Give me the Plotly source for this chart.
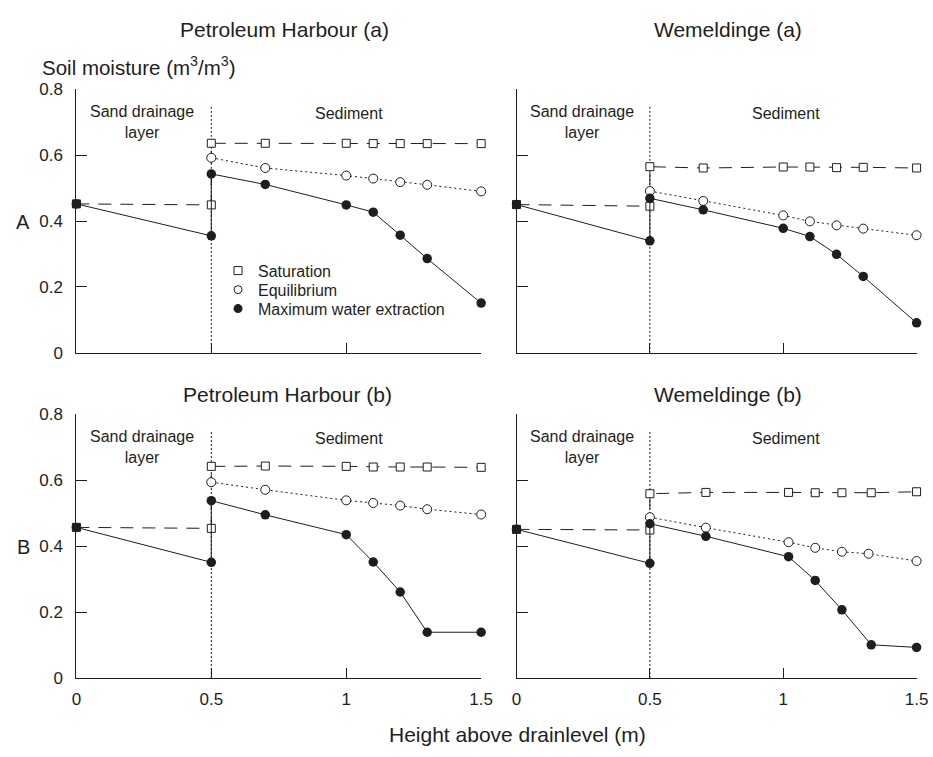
import plotly.graph_objects as go

# ---------------- data ----------------
x_tick_vals = [0, 0.5, 1, 1.5]
x_tick_text = ["0", "0.5", "1", "1.5"]
y_tick_vals = [0, 0.2, 0.4, 0.6, 0.8]
y_tick_text = ["0", "0.2", "0.4", "0.6", "0.8"]

# common sampling heights (m); 0.5 appears twice (sand / sediment side of the interface)
x_std = [0, 0.5, 0.5, 0.7, 1.0, 1.1, 1.2, 1.3, 1.5]
x_eq_std = [0.5, 0.7, 1.0, 1.1, 1.2, 1.3, 1.5]
x_wb = [0, 0.5, 0.5, 0.71, 1.02, 1.12, 1.22, 1.33, 1.5]
x_eq_wb = [0.5, 0.71, 1.02, 1.12, 1.22, 1.32, 1.5]

# Petroleum Harbour (a)
pha_sat = [0.452, 0.449, 0.636, 0.636, 0.636, 0.635, 0.635, 0.635, 0.635]
pha_eq = [0.592, 0.561, 0.538, 0.529, 0.518, 0.510, 0.490]
pha_max = [0.452, 0.355, 0.543, 0.511, 0.449, 0.427, 0.357, 0.286, 0.151]

# Wemeldinge (a)
wa_sat = [0.450, 0.445, 0.565, 0.561, 0.564, 0.564, 0.562, 0.563, 0.561]
wa_eq = [0.491, 0.461, 0.417, 0.399, 0.387, 0.377, 0.357]
wa_max = [0.450, 0.340, 0.469, 0.434, 0.378, 0.353, 0.299, 0.232, 0.091]

# Petroleum Harbour (b)
phb_sat = [0.457, 0.454, 0.642, 0.643, 0.642, 0.640, 0.640, 0.640, 0.639]
phb_eq = [0.594, 0.571, 0.539, 0.531, 0.523, 0.512, 0.496]
phb_max = [0.457, 0.351, 0.538, 0.495, 0.435, 0.352, 0.261, 0.139, 0.139]

# Wemeldinge (b)
wb_sat = [0.451, 0.449, 0.559, 0.563, 0.563, 0.562, 0.562, 0.562, 0.565]
wb_eq = [0.488, 0.456, 0.412, 0.395, 0.383, 0.377, 0.355]
wb_max = [0.451, 0.348, 0.468, 0.430, 0.368, 0.296, 0.207, 0.101, 0.093]

divider_x = [0.5, 0.5]
divider_y = [0, 0.75]

series_names = ["Saturation", "Equilibrium", "Maximum water extraction"]

panels = [
    dict(ax="", x=x_std, xe=x_eq_std, sat=pha_sat, eq=pha_eq, mx=pha_max, title="Petroleum Harbour (a)"),
    dict(ax="2", x=x_std, xe=x_eq_std, sat=wa_sat, eq=wa_eq, mx=wa_max, title="Wemeldinge (a)"),
    dict(ax="3", x=x_std, xe=x_eq_std, sat=phb_sat, eq=phb_eq, mx=phb_max, title="Petroleum Harbour (b)"),
    dict(ax="4", x=x_wb, xe=x_eq_wb, sat=wb_sat, eq=wb_eq, mx=wb_max, title="Wemeldinge (b)"),
]

# ---------------- style ----------------
W, H = 933, 757
ink = "#1e1e1e"
FONT = "Liberation Sans, Arial, Helvetica, sans-serif"

def px_x(p):
    return p / W

def px_y(p):
    return 1 - p / H

dom_x = {"": [72.7, 485.0], "2": [521.0, 928.5], "3": [72.7, 485.0], "4": [521.0, 928.5]}
dom_y = {"": [352.7, 82.3], "2": [352.7, 82.3], "3": [686.3, 415.7], "4": [686.3, 415.7]}

fig = go.Figure()

for p in panels:
    a = p["ax"]
    xa, ya = "x" + a, "y" + a
    # divider between sand drainage layer and sediment
    fig.add_trace(go.Scatter(x=divider_x, y=divider_y, mode="lines", xaxis=xa, yaxis=ya,
                             line=dict(color=ink, width=1, dash="2px,2px"),
                             showlegend=False, hoverinfo="skip"))
    # saturation
    fill = [ink] + ["white"] * (len(p["sat"]) - 1)
    fig.add_trace(go.Scatter(x=p["x"], y=p["sat"], mode="lines+markers", xaxis=xa, yaxis=ya,
                             name=series_names[0],
                             line=dict(color=ink, width=1, dash="13px,9px"),
                             marker=dict(symbol="square", size=8, color=fill,
                                         line=dict(color=ink, width=1)),
                             cliponaxis=False, showlegend=False))
    # equilibrium
    fig.add_trace(go.Scatter(x=p["xe"], y=p["eq"], mode="lines+markers", xaxis=xa, yaxis=ya,
                             name=series_names[1],
                             line=dict(color=ink, width=1, dash="2px,3px"),
                             marker=dict(symbol="circle", size=9, color="white",
                                         line=dict(color=ink, width=1)),
                             cliponaxis=False, showlegend=False))
    # maximum water extraction
    fig.add_trace(go.Scatter(x=p["x"], y=p["mx"], mode="lines+markers", xaxis=xa, yaxis=ya,
                             name=series_names[2],
                             line=dict(color=ink, width=1),
                             marker=dict(symbol="circle", size=9.5, color=ink,
                                         line=dict(color=ink, width=0)),
                             cliponaxis=False, showlegend=False))

# legend entries (symbols only), one legend per row for exact spacing
fig.add_trace(go.Scatter(x=[None], y=[None], mode="markers", name=series_names[0], legend="legend",
                         marker=dict(symbol="square", size=8, color="white", line=dict(color=ink, width=1))))
fig.add_trace(go.Scatter(x=[None], y=[None], mode="markers", name=series_names[1], legend="legend2",
                         marker=dict(symbol="circle", size=8, color="white", line=dict(color=ink, width=1))))
fig.add_trace(go.Scatter(x=[None], y=[None], mode="markers", name=series_names[2], legend="legend3",
                         marker=dict(symbol="circle", size=9, color=ink, line=dict(width=0))))

def legend_box(top_px):
    return dict(x=px_x(217), y=px_y(top_px), xanchor="left", yanchor="top",
                bgcolor="rgba(0,0,0,0)", font=dict(size=16, family=FONT, color=ink),
                itemwidth=30, tracegroupgap=0)

layout = dict(
    width=W, height=H, autosize=False,
    margin=dict(l=0, r=0, t=0, b=0),
    paper_bgcolor="white", plot_bgcolor="white",
    font=dict(family=FONT, color=ink, size=16),
    showlegend=True,
    legend=legend_box(251),
    legend2=legend_box(270.5),
    legend3=legend_box(290),
)

for a in ["", "2", "3", "4"]:
    bottom = a in ("3", "4")
    left = a in ("", "3")
    layout["xaxis" + a] = dict(
        domain=[px_x(dom_x[a][0]), px_x(dom_x[a][1])], range=[0, 1.5],
        anchor="y" + a, showline=True, linecolor=ink, linewidth=1,
        ticks="inside", ticklen=10, tickwidth=1, tickcolor=ink,
        tickvals=x_tick_vals, ticktext=x_tick_text, showticklabels=bottom,
        tickfont=dict(size=17, family=FONT, color=ink), ticklabelstandoff=6,
        showgrid=False, zeroline=False, fixedrange=True)
    layout["yaxis" + a] = dict(
        domain=[px_y(dom_y[a][0]), px_y(dom_y[a][1])], range=[0, 0.8],
        anchor="x" + a, showline=True, linecolor=ink, linewidth=1,
        ticks="inside", ticklen=11, tickwidth=1, tickcolor=ink,
        tickvals=y_tick_vals, ticktext=y_tick_text, showticklabels=left,
        tickfont=dict(size=17, family=FONT, color=ink), ticklabelstandoff=9,
        showgrid=False, zeroline=False, fixedrange=True)

fig.update_layout(**layout)

ann = []
title_pos = [(284.5, 20.7), (736, 20.7), (287.5, 395), (736, 395)]
for p, (tx, ty) in zip(panels, title_pos):
    ann.append(dict(text=p["title"], x=px_x(tx), y=px_y(ty), xref="paper", yref="paper",
                    xanchor="center", yanchor="middle", showarrow=False, font=dict(size=21)))
    a = p["ax"]
    ann.append(dict(text="Sand drainage<br>layer", x=0.245, y=0.70, xref="x" + a, yref="y" + a,
                    xanchor="center", yanchor="middle", showarrow=False, font=dict(size=16)))
    ann.append(dict(text="Sediment", x=1.01, y=0.725, xref="x" + a, yref="y" + a,
                    xanchor="center", yanchor="middle", showarrow=False, font=dict(size=16)))

ann.append(dict(text="Soil moisture (m<sup>3</sup>/m<sup>3</sup>)", x=px_x(36), y=px_y(58),
                xref="paper", yref="paper", xanchor="left", yanchor="middle",
                showarrow=False, font=dict(size=20.5)))
ann.append(dict(text="A", x=px_x(18.5), y=px_y(218), xref="paper", yref="paper",
                xanchor="center", yanchor="middle", showarrow=False, font=dict(size=20)))
ann.append(dict(text="B", x=px_x(18.5), y=px_y(552), xref="paper", yref="paper",
                xanchor="center", yanchor="middle", showarrow=False, font=dict(size=20)))
ann.append(dict(text="Height above drainlevel (m)", x=px_x(522), y=px_y(744), xref="paper",
                yref="paper", xanchor="center", yanchor="middle", showarrow=False,
                font=dict(size=21)))
fig.update_layout(annotations=ann)

fig.write_html("out.html")
